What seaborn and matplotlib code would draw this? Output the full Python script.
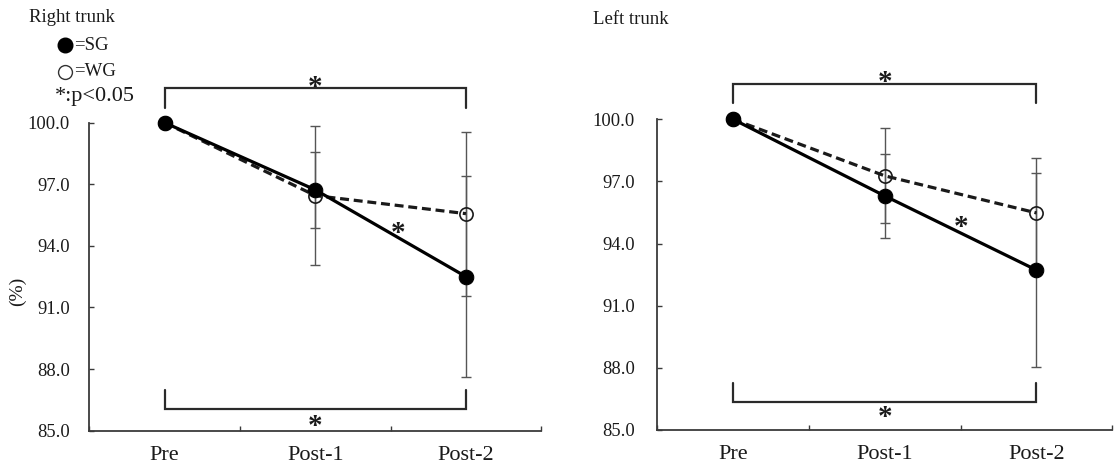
import numpy as np
import pandas as pd
import matplotlib.pyplot as plt
from matplotlib.lines import Line2D
from matplotlib.ticker import FixedLocator
import seaborn as sns

# values (normalised to Pre = 100 %)
phases = ['Pre', 'Post-1', 'Post-2']

right_sg_mean = [100.0, 96.73, 92.50]
right_sg_sd = [0.0, 1.86, 4.90]
right_wg_mean = [100.0, 96.45, 95.57]
right_wg_sd = [0.0, 3.40, 4.00]

left_sg_mean = [100.0, 96.30, 92.72]
left_sg_sd = [0.0, 2.03, 4.70]
left_wg_mean = [100.0, 97.27, 95.48]
left_wg_sd = [0.0, 2.30, 2.67]

y_ticks = [85.0, 88.0, 91.0, 94.0, 97.0, 100.0]

sns.set_style("ticks")
plt.rcParams['font.family'] = ['Liberation Serif', 'DejaVu Serif']

INK = '#1a1a1a'
AXIS = '#3a3a3a'
ERR = '#555555'


def draw_panel(ax, sg_mean, sg_sd, wg_mean, wg_sd, brackets, label_pad):
    xpos = np.arange(len(phases))
    df = pd.DataFrame({'x': xpos, 'sg': sg_mean, 'wg': wg_mean})

    # error bars (thin grey, capped) drawn from the SD lists
    ax.errorbar(xpos, wg_mean, yerr=wg_sd, fmt='none', ecolor=ERR,
                elinewidth=1.0, capsize=3.4, capthick=1.0, zorder=2, clip_on=False)
    ax.errorbar(xpos, sg_mean, yerr=sg_sd, fmt='none', ecolor=ERR,
                elinewidth=1.0, capsize=3.4, capthick=1.0, zorder=2, clip_on=False)

    # WG: dashed line, open circles
    sns.lineplot(data=df, x='x', y='wg', ax=ax, color=INK, linewidth=2.3,
                 linestyle=(0, (2.8, 1.5)), marker='o', markersize=9.5,
                 markerfacecolor='none', markeredgecolor=INK, markeredgewidth=1.2,
                 errorbar=None, sort=False, clip_on=False, zorder=3)
    # SG: solid line, filled circles
    sns.lineplot(data=df, x='x', y='sg', ax=ax, color='black', linewidth=2.3,
                 linestyle='-', marker='o', markersize=10.5,
                 markerfacecolor='black', markeredgecolor='black',
                 errorbar=None, sort=False, clip_on=False, zorder=4)

    ax.set_xlim(-0.5, len(phases) - 0.5)
    ax.set_ylim(85, 100)
    ax.set_xticks(xpos)
    ax.set_xticklabels(phases)
    ax.xaxis.set_minor_locator(FixedLocator(np.arange(len(phases) + 1) - 0.5))
    ax.set_yticks(y_ticks)
    ax.set_yticklabels([f'{v:.1f}' for v in y_ticks])
    ax.set_xlabel('')
    ax.set_ylabel('')

    ax.tick_params(axis='x', which='major', length=0, pad=11, labelsize=16, labelcolor=INK)
    ax.tick_params(axis='x', which='minor', direction='in', length=3.5, width=1.0, color=AXIS)
    ax.tick_params(axis='y', direction='in', length=3.5, width=1.0, color=AXIS,
                   pad=label_pad, labelsize=13.3, labelcolor=INK)

    for s in ['top', 'right']:
        ax.spines[s].set_visible(False)
    for s in ['left', 'bottom']:
        ax.spines[s].set_color(AXIS)
        ax.spines[s].set_linewidth(1.3)

    # significance brackets Pre vs Post-2
    (top_y, top_end), (bot_y, bot_end), top_star, bot_star, mid_star = brackets
    ax.plot([0, 0, 2, 2], [top_end, top_y, top_y, top_end], color='#2a2a2a',
            lw=1.6, clip_on=False, solid_joinstyle='miter')
    ax.plot([0, 0, 2, 2], [bot_end, bot_y, bot_y, bot_end], color='#2a2a2a',
            lw=1.6, clip_on=False, solid_joinstyle='miter')
    for (sx, sy) in [top_star, bot_star, mid_star]:
        ax.text(sx, sy, '*', ha='center', va='center', fontsize=21,
                fontweight='bold', color=INK, clip_on=False)


fig = plt.figure(figsize=(11.14, 4.66), dpi=100)
ax_r = fig.add_axes([0.0802, 0.0758, 0.4057, 0.6609])
ax_l = fig.add_axes([0.5900, 0.0773, 0.4085, 0.6667])

draw_panel(ax_r, right_sg_mean, right_sg_sd, right_wg_mean, right_wg_sd,
           [(101.68, 100.73), (86.04, 86.98), (1.0, 101.72), (1.0, 85.2), (1.55, 94.62)],
           label_pad=14)
draw_panel(ax_l, left_sg_mean, left_sg_sd, left_wg_mean, left_wg_sd,
           [(101.70, 100.77), (86.36, 87.28), (1.0, 101.78), (1.0, 85.6), (1.5, 94.78)],
           label_pad=16)

W, H = 1114, 466


def fx(px):
    return px / W


def fy(py):
    return 1 - py / H


fig.text(fx(29), fy(18), 'Right trunk', fontsize=13.5, va='center', ha='left', color=INK)
fig.text(fx(593), fy(19), 'Left trunk', fontsize=13.5, va='center', ha='left', color=INK)
fig.text(fx(17), fy(291), '(%)', fontsize=14, rotation=90, va='center', ha='center', color=INK)

# legend block
fig.add_artist(Line2D([fx(64.5)], [fy(45)], transform=fig.transFigure, marker='o',
                      markersize=10.5, color='black', linestyle='none'))
fig.add_artist(Line2D([fx(64.5)], [fy(72)], transform=fig.transFigure, marker='o',
                      markersize=10, markerfacecolor='none', markeredgecolor='#333333',
                      markeredgewidth=1.0, linestyle='none'))
fig.text(fx(74), fy(45), '=SG', fontsize=13.5, va='center', ha='left', color=INK)
fig.text(fx(74), fy(72), '=WG', fontsize=13.5, va='center', ha='left', color=INK)
fig.text(fx(55), fy(97), '*:p<0.05', fontsize=16, va='center', ha='left', color=INK)

fig.savefig('out.png', dpi=100)
